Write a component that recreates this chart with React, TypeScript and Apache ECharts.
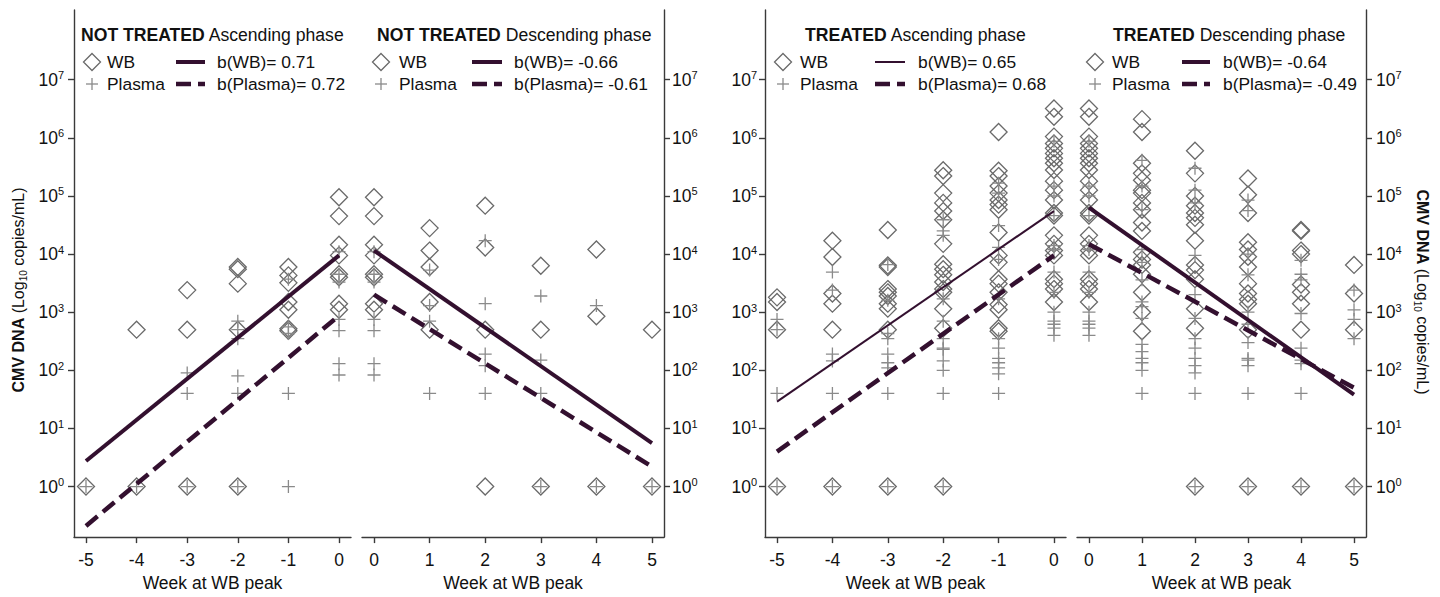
import React, { useEffect, useRef } from "react";
import * as echarts from "echarts";

type Pt = [number, number];

// ---------- tick labels / texts ----------
const xTicksAsc = [-5, -4, -3, -2, -1, 0];
const xTicksDesc = [0, 1, 2, 3, 4, 5];
const yTickExponents = [0, 1, 2, 3, 4, 5, 6, 7];
const panelGroups = ["NOT TREATED", "NOT TREATED", "TREATED", "TREATED"];
const panelPhases = ["Ascending phase", "Descending phase", "Ascending phase", "Descending phase"];
const wbSlopes = ["0.71", "-0.66", "0.65", "-0.64"];
const plasmaSlopes = ["0.72", "-0.61", "0.68", "-0.49"];
const seriesLabels = ["WB", "Plasma"];
const xAxisTitle = "Week at WB peak";

// ---------- data: [week, copies/mL] ----------
const ntAscWB: Pt[] = [
  [-5, 1], [-4, 500], [-4, 1], [-3, 2400], [-3, 500], [-3, 1],
  [-2, 6000], [-2, 5500], [-2, 3100], [-2, 500], [-2, 1],
  [-1, 6000], [-1, 4300], [-1, 3200], [-1, 1500], [-1, 1100], [-1, 520], [-1, 480],
  [0, 95000], [0, 45000], [0, 14500], [0, 9500], [0, 4500], [0, 4000], [0, 1400], [0, 1100],
];
const ntAscPlasma: Pt[] = [
  [-5, 1], [-4, 1], [-3, 90], [-3, 40], [-3, 1],
  [-2, 700], [-2, 500], [-2, 350], [-2, 80], [-2, 40], [-2, 1],
  [-1, 3700], [-1, 560], [-1, 430], [-1, 40], [-1, 1],
  [0, 11000], [0, 4500], [0, 3300], [0, 750], [0, 480], [0, 130], [0, 83],
];
const ntDescWB: Pt[] = [
  [0, 95000], [0, 45000], [0, 14500], [0, 9500], [0, 4500], [0, 4000], [0, 1400], [0, 1100],
  [1, 28000], [1, 11500], [1, 6000], [1, 1500], [1, 500],
  [2, 68000], [2, 13000], [2, 500], [2, 1],
  [3, 6300], [3, 500], [3, 1],
  [4, 12000], [4, 850], [4, 1],
  [5, 500], [5, 1],
];
const ntDescPlasma: Pt[] = [
  [0, 11000], [0, 4500], [0, 3300], [0, 750], [0, 480], [0, 130], [0, 83],
  [1, 5300], [1, 1300], [1, 700], [1, 40],
  [2, 17000], [2, 1400], [2, 190], [2, 120], [2, 40],
  [3, 1900], [3, 150], [3, 40], [3, 1],
  [4, 1300], [4, 1],
  [5, 1],
];
const trAscWB: Pt[] = [
  [-5, 1800], [-5, 1500], [-5, 500], [-5, 1],
  [-4, 17000], [-4, 8900], [-4, 2100], [-4, 1400], [-4, 500], [-4, 1],
  [-3, 26000], [-3, 6400], [-3, 6000], [-3, 2500], [-3, 2200], [-3, 1900], [-3, 1400], [-3, 1150], [-3, 500], [-3, 1],
  [-2, 277000], [-2, 220000], [-2, 112000], [-2, 76000], [-2, 55000], [-2, 39000], [-2, 15000], [-2, 6700],
  [-2, 5500], [-2, 4400], [-2, 3300], [-2, 2500], [-2, 2200], [-2, 1150], [-2, 530], [-2, 1],
  [-1, 1260000], [-1, 272000], [-1, 220000], [-1, 148000], [-1, 112000], [-1, 85000], [-1, 71000], [-1, 58000],
  [-1, 23500], [-1, 9500], [-1, 7200], [-1, 3700], [-1, 3100], [-1, 2200], [-1, 1350], [-1, 1100], [-1, 530], [-1, 470],
  [0, 3200000], [0, 2300000], [0, 1050000], [0, 800000], [0, 660000], [0, 540000], [0, 445000], [0, 365000],
  [0, 280000], [0, 180000], [0, 126000], [0, 85000], [0, 51000], [0, 46000], [0, 21000], [0, 15000],
  [0, 11500], [0, 9500], [0, 3700], [0, 3100], [0, 2500], [0, 1500],
];
const trAscPlasma: Pt[] = [
  [-5, 750], [-5, 500], [-5, 40], [-5, 1],
  [-4, 4900], [-4, 2400], [-4, 190], [-4, 145], [-4, 40], [-4, 1],
  [-3, 6600], [-3, 1600], [-3, 430], [-3, 350], [-3, 190], [-3, 135], [-3, 110], [-3, 40], [-3, 1],
  [-2, 39000], [-2, 25000], [-2, 21000], [-2, 1700], [-2, 700], [-2, 350], [-2, 240], [-2, 230], [-2, 145], [-2, 100], [-2, 40], [-2, 1],
  [-1, 166000], [-1, 112000], [-1, 31000], [-1, 13000], [-1, 8100], [-1, 1700], [-1, 350], [-1, 240],
  [-1, 160], [-1, 135], [-1, 110], [-1, 87], [-1, 40],
  [0, 870000], [0, 148000], [0, 100000], [0, 46000], [0, 14000], [0, 12000], [0, 4900], [0, 2200],
  [0, 1000], [0, 700], [0, 620], [0, 530], [0, 400],
];
const trDescWB: Pt[] = [
  [0, 3200000], [0, 2300000], [0, 1050000], [0, 800000], [0, 660000], [0, 540000], [0, 445000], [0, 365000],
  [0, 280000], [0, 180000], [0, 126000], [0, 85000], [0, 51000], [0, 46000], [0, 21000], [0, 15000],
  [0, 11500], [0, 9500], [0, 3700], [0, 3100], [0, 2500], [0, 1500],
  [1, 2100000], [1, 1260000], [1, 365000], [1, 245000], [1, 186000], [1, 126000], [1, 112000], [1, 76000],
  [1, 58000], [1, 35000], [1, 25000], [1, 10700], [1, 8100], [1, 6500], [1, 4500], [1, 2200], [1, 1000], [1, 470],
  [2, 600000], [2, 245000], [2, 100000], [2, 68000], [2, 51000], [2, 42000], [2, 32000], [2, 17000],
  [2, 6500], [2, 5300], [2, 3700], [2, 1150], [2, 530], [2, 1],
  [3, 200000], [3, 105000], [3, 51000], [3, 16000], [3, 12000], [3, 9000], [3, 6000], [3, 3100],
  [3, 2100], [3, 1650], [3, 1400], [3, 500], [3, 1],
  [4, 26000], [4, 25000], [4, 11500], [4, 10000], [4, 3000], [4, 2200], [4, 1400], [4, 500], [4, 1],
  [5, 6500], [5, 2100], [5, 500], [5, 1],
];
const trDescPlasma: Pt[] = [
  [0, 870000], [0, 148000], [0, 100000], [0, 46000], [0, 14000], [0, 12000], [0, 4900], [0, 2200],
  [0, 1000], [0, 700], [0, 620], [0, 530], [0, 400],
  [1, 410000], [1, 148000], [1, 58000], [1, 12000], [1, 7200], [1, 3600], [1, 1500], [1, 1250],
  [1, 780], [1, 280], [1, 210], [1, 160], [1, 135], [1, 100], [1, 40],
  [2, 300000], [2, 126000], [2, 76000], [2, 9500], [2, 2000], [2, 780], [2, 350], [2, 240],
  [2, 160], [2, 120], [2, 90], [2, 40], [2, 1],
  [3, 85000], [3, 56000], [3, 10000], [3, 4400], [3, 1000], [3, 620], [3, 300], [3, 160], [3, 150], [3, 120], [3, 40], [3, 1],
  [4, 7800], [4, 4500], [4, 3600], [4, 950], [4, 240], [4, 150], [4, 130], [4, 40], [4, 1],
  [5, 2400], [5, 1100], [5, 750], [5, 350], [5, 1],
];

// fitted regression lines: endpoints [week, copies/mL]
const ntAscWBFit: Pt[] = [[-5, 2.75], [0, 9500]];
const ntAscPlasmaFit: Pt[] = [[-5, 0.21], [0, 870]];
const ntDescWBFit: Pt[] = [[0, 11500], [5, 5.6]];
const ntDescPlasmaFit: Pt[] = [[0, 2000], [5, 2.2]];
const trAscWBFit: Pt[] = [[-5, 29], [0, 55000]];
const trAscPlasmaFit: Pt[] = [[-5, 4], [0, 9500]];
const trDescWBFit: Pt[] = [[0, 63000], [5, 38]];
const trDescPlasmaFit: Pt[] = [[0, 14800], [5, 50]];

const FONT = "'Liberation Sans', Arial, Helvetica, sans-serif";
const LINE_COLOR = "#33102f";
const DIAMOND_COLOR = "#6a6a6a";
const PLUS_COLOR = "#8a8a8a";
const AXIS_COLOR = "#3a3a3a";
const TEXT_COLOR = "#111";

const toLog = (pts: Pt[]) => pts.map(([w, v]) => [w, Math.log10(v)]);

export default function App() {
  const ref = useRef<HTMLDivElement>(null);

  useEffect(() => {
    if (!ref.current) return;
    const chart = echarts.init(ref.current, null, { renderer: "svg" });

    const grids = [
      { left: 74, top: 10, width: 277, height: 533 },
      { left: 362, top: 10, width: 302, height: 533 },
      { left: 765, top: 10, width: 301, height: 533 },
      { left: 1077, top: 10, width: 289, height: 533 },
    ];
    const xRanges = [
      [-5.237, 0.237],
      [-0.216, 5.216],
      [-5.217, 0.217],
      [-0.226, 5.226],
    ];
    const xTicks = [xTicksAsc, xTicksDesc, xTicksAsc, xTicksDesc];
    const yPos = ["left", "right", "left", "right"];
    const yMargins = [10, 8, 8, 10];

    const wbSets = [ntAscWB, ntDescWB, trAscWB, trDescWB];
    const plSets = [ntAscPlasma, ntDescPlasma, trAscPlasma, trDescPlasma];
    const wbFits = [ntAscWBFit, ntDescWBFit, trAscWBFit, trDescWBFit];
    const plFits = [ntAscPlasmaFit, ntDescPlasmaFit, trAscPlasmaFit, trDescPlasmaFit];
    const wbLineWidths = [4, 4, 2, 4];

    const xAxis = grids.map((_, i) => ({
      type: "value",
      gridIndex: i,
      min: xRanges[i][0],
      max: xRanges[i][1],
      splitLine: { show: false },
      axisLine: { show: true, onZero: false, lineStyle: { color: AXIS_COLOR, width: 1.4 } },
      axisTick: { show: true, length: 6, customValues: xTicks[i], lineStyle: { color: AXIS_COLOR, width: 1.4 } },
      axisLabel: {
        customValues: xTicks[i],
        margin: 14,
        fontSize: 17.5,
        fontFamily: FONT,
        color: TEXT_COLOR,
        formatter: (v: number) => String(v),
      },
      name: xAxisTitle,
      nameLocation: "middle",
      nameGap: 34,
      nameTextStyle: { fontSize: 17.5, fontFamily: FONT, color: TEXT_COLOR },
    }));

    const yAxis = grids.map((_, i) => ({
      type: "value",
      gridIndex: i,
      min: -0.87,
      max: 8.2,
      position: yPos[i],
      splitLine: { show: false },
      axisLine: { show: true, onZero: false, lineStyle: { color: AXIS_COLOR, width: 1.4 } },
      axisTick: { show: true, length: 6, customValues: yTickExponents, lineStyle: { color: AXIS_COLOR, width: 1.4 } },
      axisLabel: {
        customValues: yTickExponents,
        margin: yMargins[i],
        fontSize: 17.5,
        fontFamily: FONT,
        color: TEXT_COLOR,
        formatter: (v: number) => `{m|10}{s|${Math.round(v)}}`,
        rich: {
          m: { fontSize: 17.5, fontFamily: FONT, color: TEXT_COLOR, lineHeight: 20 },
          s: { fontSize: 11, fontFamily: FONT, color: TEXT_COLOR, verticalAlign: "top", lineHeight: 20 },
        },
      },
    }));

    const series: any[] = [];
    grids.forEach((_, i) => {
      series.push({
        type: "scatter",
        xAxisIndex: i,
        yAxisIndex: i,
        data: toLog(wbSets[i]),
        symbol: "diamond",
        symbolSize: 17,
        itemStyle: { color: "rgba(0,0,0,0)", borderColor: DIAMOND_COLOR, borderWidth: 1.3, opacity: 1 },
        silent: true,
        z: 2,
      });
      series.push({
        type: "scatter",
        xAxisIndex: i,
        yAxisIndex: i,
        data: toLog(plSets[i]),
        symbol: "path://M6,0L6,12M0,6L12,6",
        symbolSize: 13,
        itemStyle: { color: "none", borderColor: PLUS_COLOR, borderWidth: 1.3, opacity: 1 },
        silent: true,
        z: 3,
      });
      series.push({
        type: "line",
        xAxisIndex: i,
        yAxisIndex: i,
        data: toLog(wbFits[i]),
        showSymbol: false,
        symbol: "none",
        lineStyle: { color: LINE_COLOR, width: wbLineWidths[i], cap: "butt" },
        silent: true,
        z: 4,
      });
      series.push({
        type: "line",
        xAxisIndex: i,
        yAxisIndex: i,
        data: toLog(plFits[i]),
        showSymbol: false,
        symbol: "none",
        lineStyle: { color: LINE_COLOR, width: 4.5, type: [15, 7], cap: "butt" },
        silent: true,
        z: 4,
      });
    });

    // legends (graphic)
    const legendLayout = [
      { titleX: 81, symX: 92, labelX: 107, lineX1: 176, lineX2: 205, valX: 217 },
      { titleX: 377, symX: 381, labelX: 399, lineX1: 472, lineX2: 502, valX: 514 },
      { titleX: 805, symX: 783, labelX: 800, lineX1: 875, lineX2: 905, valX: 918 },
      { titleX: 1113, symX: 1095, labelX: 1112, lineX1: 1182, lineX2: 1210, valX: 1223 },
    ];
    const titleY = 35;
    const row1Y = 62;
    const row2Y = 84;
    const LEGEND_FS = 17.4;
    const TITLE_FS = 17.6;
    const textStyle = (x: number, y: number, text: string) => ({
      type: "text",
      x,
      y,
      silent: true,
      style: { text, fontSize: LEGEND_FS, fontFamily: FONT, fill: TEXT_COLOR, align: "left", verticalAlign: "middle" },
    });
    const graphics: any[] = [];
    legendLayout.forEach((L, i) => {
      graphics.push({
        type: "text",
        x: L.titleX,
        y: titleY,
        silent: true,
        style: {
          text: `{b|${panelGroups[i]}}{n| ${panelPhases[i]}}`,
          fontSize: TITLE_FS,
          fontFamily: FONT,
          fill: TEXT_COLOR,
          align: "left",
          verticalAlign: "middle",
          rich: {
            b: { fontSize: TITLE_FS, fontFamily: FONT, fontWeight: "bold", fill: TEXT_COLOR },
            n: { fontSize: TITLE_FS, fontFamily: FONT, fill: TEXT_COLOR },
          },
        },
      });
      const d = 8.5;
      graphics.push({
        type: "polygon",
        silent: true,
        shape: { points: [[L.symX, row1Y - d], [L.symX + d, row1Y], [L.symX, row1Y + d], [L.symX - d, row1Y]] },
        style: { fill: "none", stroke: DIAMOND_COLOR, lineWidth: 1.3 },
      });
      graphics.push({
        type: "line",
        silent: true,
        shape: { x1: L.symX - 6, y1: row2Y, x2: L.symX + 6, y2: row2Y },
        style: { stroke: PLUS_COLOR, lineWidth: 1.3 },
      });
      graphics.push({
        type: "line",
        silent: true,
        shape: { x1: L.symX, y1: row2Y - 6, x2: L.symX, y2: row2Y + 6 },
        style: { stroke: PLUS_COLOR, lineWidth: 1.3 },
      });
      graphics.push(textStyle(L.labelX, row1Y, seriesLabels[0]));
      graphics.push(textStyle(L.labelX, row2Y, seriesLabels[1]));
      graphics.push({
        type: "line",
        silent: true,
        shape: { x1: L.lineX1, y1: row1Y, x2: L.lineX2, y2: row1Y },
        style: { stroke: LINE_COLOR, lineWidth: wbLineWidths[i] },
      });
      graphics.push({
        type: "line",
        silent: true,
        shape: { x1: L.lineX1, y1: row2Y, x2: L.lineX2, y2: row2Y },
        style: { stroke: LINE_COLOR, lineWidth: 4.5, lineDash: [15, 7] },
      });
      graphics.push(textStyle(L.valX, row1Y, `b(WB)= ${wbSlopes[i]}`));
      graphics.push(textStyle(L.valX, row2Y, `b(Plasma)= ${plasmaSlopes[i]}`));
    });

    const yTitleRich = {
      b: { fontSize: 16, fontFamily: FONT, fontWeight: "bold", fill: TEXT_COLOR, lineHeight: 20 },
      n: { fontSize: 16, fontFamily: FONT, fill: TEXT_COLOR, lineHeight: 20 },
      sub: { fontSize: 10, fontFamily: FONT, fill: TEXT_COLOR, verticalAlign: "bottom", lineHeight: 20 },
    };
    const yTitleText = "{b|CMV DNA}{n| (Log}{sub|10}{n| copies/mL)}";
    graphics.push({
      type: "text",
      x: 18,
      y: 290,
      rotation: Math.PI / 2,
      silent: true,
      style: { text: yTitleText, rich: yTitleRich, align: "center", verticalAlign: "middle", fontSize: 16, fontFamily: FONT },
    });
    graphics.push({
      type: "text",
      x: 1422,
      y: 292,
      rotation: -Math.PI / 2,
      silent: true,
      style: { text: yTitleText, rich: yTitleRich, align: "center", verticalAlign: "middle", fontSize: 16, fontFamily: FONT },
    });

    chart.setOption({
      animation: false,
      backgroundColor: "#ffffff",
      grid: grids.map((g) => ({ ...g, containLabel: false })),
      xAxis,
      yAxis,
      series,
      graphic: { elements: graphics },
    });

    return () => chart.dispose();
  }, []);

  return (
    <div
      ref={ref}
      style={{ position: "fixed", left: 0, top: 0, width: 1440, height: 597, background: "#fff" }}
    />
  );
}
